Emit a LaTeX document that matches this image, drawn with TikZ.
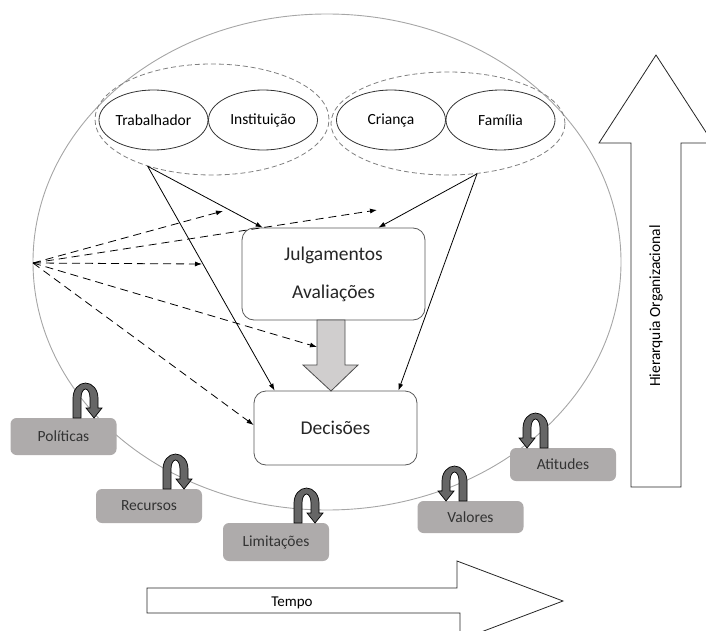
\documentclass[tikz,border=0pt]{standalone}
\usepackage{fontspec}
\setmainfont{Carlito}
\usetikzlibrary{shapes.geometric,arrows.meta}

\definecolor{boxgray}{HTML}{AEABAB}
\definecolor{curlgray}{HTML}{666666}
\definecolor{blockgray}{HTML}{D0CECE}

% curled arrow above a factor box: #1 = 1 or -1 (mirror), #2 = foot point
\newcommand{\curlar}[2][1]{%
  \draw[curl,shift={#2},xscale=#1,yscale=-1] (0,0) -- (0,20)
    arc[start angle=180,end angle=0,x radius=12.5,y radius=15] -- (25,10) -- (29,10)
    -- (21,0) -- (13,10) -- (17,10) -- (17,20)
    arc[start angle=0,end angle=180,x radius=4.5,y radius=9] -- (8,0) -- cycle;}

\begin{document}
\begin{tikzpicture}[x=1pt,y=-1pt,line width=0.8pt,
    actor/.style={draw=black!80,fill=white,ellipse,minimum width=109,minimum height=60,inner sep=0,font=\fontsize{15.5}{18}\selectfont},
    grp/.style={draw=black!50,dash pattern=on 5pt off 3pt,ellipse,inner sep=0},
    judge/.style={draw=black!65,fill=white,rounded corners=12pt,inner sep=0,align=center,text=black!85,font=\fontsize{19.5}{38}\selectfont},
    factor/.style={fill=boxgray,rounded corners=6pt,inner sep=0,minimum width=106,text=black!80,font=\fontsize{15.5}{18}\selectfont},
    curl/.style={fill=curlgray,draw=black,line width=0.7pt},
    solidarr/.style={-{Latex[length=7pt,width=5pt]},black},
    dasharr/.style={-{Latex[length=7pt,width=5pt]},black,dash pattern=on 8pt off 5pt},
    bigarrow/.style={draw=black!85,fill=white}]
    \useasboundingbox (0,0) rectangle (706,631);

    \draw[black!35,line width=0.9pt] (327,262) ellipse [x radius=294,y radius=248];

    \node[grp,minimum width=234,minimum height=111] (grpA) at (212,119.5) {};
    \node[grp,minimum width=234,minimum height=103] (grpB) at (448,123.5) {};
    \node[actor] (trab) at (153.5,120) {Trabalhador};
    \node[actor] (inst) at (263,120) {Instituição};
    \node[actor] (crianca) at (391,120) {Criança};
    \node[actor] (familia) at (500.5,120) {Família};

    \node[judge,minimum width=183,minimum height=92] (julg) at (333.5,274) {Julgamentos\\Avaliações};
    \node[judge,minimum width=163,minimum height=74] (dec) at (335.5,428) {Decisões};

    \draw[draw=black!70,fill=blockgray] (317,320) -- (345,320) -- (345,365) -- (358,365)
        -- (331,391) -- (303,365) -- (317,365) -- cycle;

    \draw[solidarr] (grpA.216) -- ([xshift=21pt]julg.north west);
    \draw[solidarr] (grpA.216) -- ([xshift=21pt]dec.north west);
    \draw[solidarr] (grpB.300) -- ([xshift=-47pt]julg.north east);
    \draw[solidarr] (grpB.300) -- ([xshift=-19pt]dec.north east);

    \coordinate (src) at (33,263);
    \coordinate (d1) at (223,211);
    \coordinate (d2) at (377,210);
    \coordinate (d3) at (202,264);
    \coordinate (d4) at (317,347);
    \draw[dasharr] (src) -- (d1);
    \draw[dasharr] (src) -- (d2);
    \draw[dasharr] (src) -- (d3);
    \draw[dasharr] (src) -- (d4);
    \draw[dasharr] (src) -- ([yshift=3pt]dec.west);

    \node[factor,minimum height=37] (pol) at (63.5,436.5) {Políticas};
    \node[factor,minimum height=34] (rec) at (149,506) {Recursos};
    \node[factor,minimum height=38] (lim) at (276,542) {Limitações};
    \node[factor,minimum height=32] (val) at (470.5,517) {Valores};
    \node[factor,minimum height=33] (ati) at (563,464.5) {Atitudes};
    \curlar{(73,418)}
    \curlar{(163,489)}
    \curlar{(294,523)}
    \curlar[-1]{(467,501)}
    \curlar[-1]{(548,448)}

    \draw[bigarrow] (631,487) -- (631,143) -- (599,143) -- (656,55) -- (713,143) -- (681,143) -- (681,487) -- cycle;
    \node[rotate=90,font=\fontsize{15.5}{18}\selectfont] (hier) at (656,306) {Hierarquia Organizacional};
    \draw[bigarrow] (147,588) -- (457,588) -- (457,561) -- (563,601) -- (460,640) -- (460,613) -- (147,613) -- cycle;
    \node[font=\fontsize{15}{18}\selectfont] (tempo) at (292,603) {Tempo};
\end{tikzpicture}
\end{document}
